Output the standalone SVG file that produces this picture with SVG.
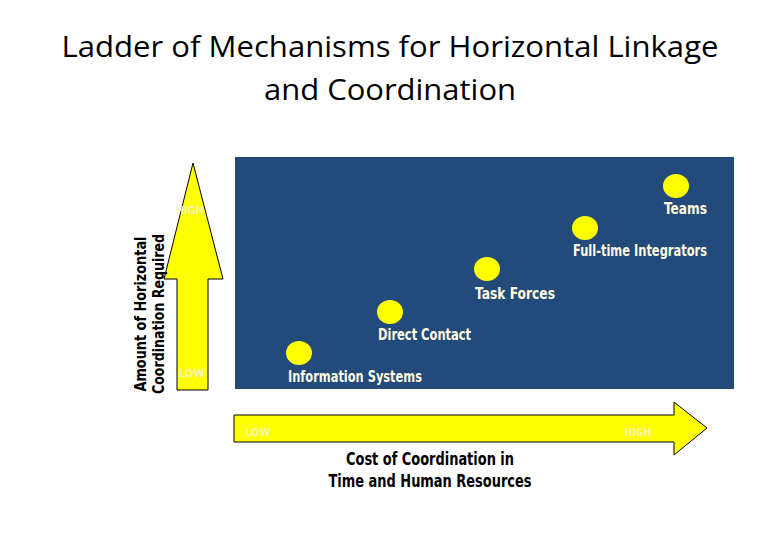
<svg xmlns="http://www.w3.org/2000/svg" width="780" height="540" viewBox="0 0 780 540">
<style>
.title{font-family:"Open Sans","Liberation Sans",sans-serif;font-size:30px;fill:#000}
.lbl{font-family:"DejaVu Sans Condensed","DejaVu Sans",sans-serif;font-weight:bold;font-stretch:condensed;font-size:15px;fill:#fffbe0}
.ax{font-family:"DejaVu Sans Condensed","DejaVu Sans",sans-serif;font-weight:bold;font-stretch:condensed;font-size:17px;fill:#000}
.vax{font-family:"DejaVu Sans Condensed","DejaVu Sans",sans-serif;font-weight:bold;font-stretch:condensed;font-size:15px;fill:#000}
.faint{font-family:"DejaVu Sans Condensed","DejaVu Sans",sans-serif;font-weight:bold;font-stretch:condensed;font-size:11px;fill:#f4f4b8}
.dot{fill:#ffff00}
.arrow{fill:#ffff00;stroke:#000;stroke-width:1}
</style>
<rect width="780" height="540" fill="#fff"/>
<g id="title">
<text class="title" x="390" y="57" text-anchor="middle" textLength="657" lengthAdjust="spacingAndGlyphs">Ladder of Mechanisms for Horizontal Linkage</text>
<text class="title" x="390" y="100" text-anchor="middle" textLength="252" lengthAdjust="spacingAndGlyphs">and Coordination</text>
</g>
<rect id="panel" x="235" y="157" width="499" height="232" fill="#224a7b"/>
<g id="axes">
<path class="arrow" d="M193,163 L223,279 L208,279 L208,390 L177,390 L177,279 L164,279 Z"/>
<text class="faint" x="190" y="214" text-anchor="middle" textLength="28" lengthAdjust="spacingAndGlyphs">HIGH</text>
<text class="faint" x="192" y="377" text-anchor="middle" textLength="26" lengthAdjust="spacingAndGlyphs">LOW</text>
<path class="arrow" d="M234,415 L674,415 L674,402 L707,428 L674,455 L674,442 L234,442 Z"/>
<text class="faint" x="258" y="436" text-anchor="middle" textLength="25" lengthAdjust="spacingAndGlyphs">LOW</text>
<text class="faint" x="638" y="436" text-anchor="middle" textLength="27" lengthAdjust="spacingAndGlyphs">HIGH</text>
<text class="ax" x="430" y="465" text-anchor="middle" textLength="168" lengthAdjust="spacingAndGlyphs">Cost of Coordination in</text>
<text class="ax" x="430" y="487" text-anchor="middle" textLength="203" lengthAdjust="spacingAndGlyphs">Time and Human Resources</text>
<text class="vax" transform="translate(146,314) rotate(-90)" text-anchor="middle" textLength="155" lengthAdjust="spacingAndGlyphs">Amount of Horizontal</text>
<text class="vax" transform="translate(164,314) rotate(-90)" text-anchor="middle" textLength="160" lengthAdjust="spacingAndGlyphs">Coordination Required</text>
</g>
<g id="info-systems">
<ellipse class="dot" cx="299" cy="353" rx="13" ry="12"/>
<text class="lbl" x="288" y="382" textLength="134" lengthAdjust="spacingAndGlyphs">Information Systems</text>
</g>
<g id="direct-contact">
<ellipse class="dot" cx="390" cy="312" rx="13" ry="12"/>
<text class="lbl" x="378" y="340" textLength="93" lengthAdjust="spacingAndGlyphs">Direct Contact</text>
</g>
<g id="task-forces">
<ellipse class="dot" cx="487" cy="269" rx="13" ry="12"/>
<text class="lbl" x="475" y="299" textLength="80" lengthAdjust="spacingAndGlyphs">Task  Forces</text>
</g>
<g id="full-time-integrators">
<ellipse class="dot" cx="585" cy="228" rx="13" ry="12"/>
<text class="lbl" x="573" y="256" textLength="134" lengthAdjust="spacingAndGlyphs">Full-time Integrators</text>
</g>
<g id="teams">
<ellipse class="dot" cx="676" cy="186" rx="13" ry="12"/>
<text class="lbl" x="664" y="214" textLength="43" lengthAdjust="spacingAndGlyphs">Teams</text>
</g>
<g id="connectors"/>
</svg>
